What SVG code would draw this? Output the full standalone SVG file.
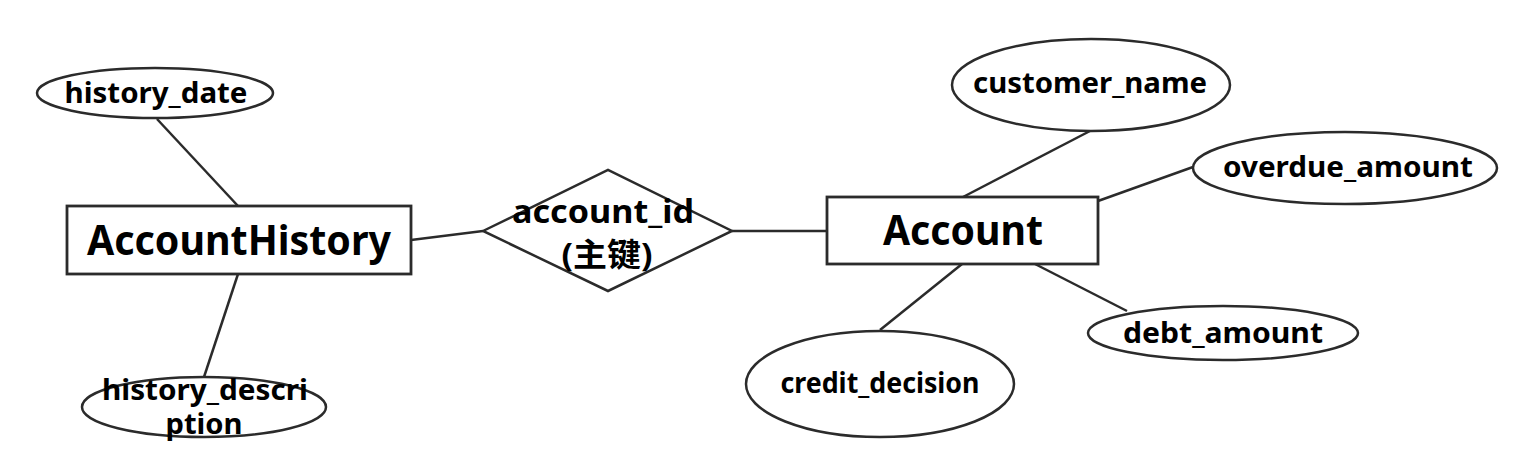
<svg xmlns="http://www.w3.org/2000/svg" width="1536" height="473" viewBox="0 0 1536 473">
<style>
.shape{fill:#fff;stroke:#2b2b2b;stroke-width:2.5}
.ent{fill:#fff;stroke:#2b2b2b;stroke-width:2.8}
.conn line{stroke:#2b2b2b;stroke-width:2.5}
text{font-family:"Noto Sans","Noto Sans CJK SC",sans-serif;font-weight:bold;fill:#000;text-anchor:middle}
.attr{font-size:28px}
.entt{font-size:41px}
.rel{font-size:32px}
</style>
<rect width="1536" height="473" fill="#fff"/>
<g id="connectors" class="conn">
<line x1="157" y1="119" x2="238" y2="206"/>
<line x1="238" y1="274" x2="204" y2="377"/>
<line x1="411" y1="240" x2="483" y2="231"/>
<line x1="732" y1="231" x2="827" y2="231"/>
<line x1="1090" y1="131" x2="963" y2="197"/>
<line x1="1098" y1="201" x2="1193" y2="167"/>
<line x1="962" y1="264" x2="880" y2="330"/>
<line x1="1035" y1="264" x2="1127" y2="311"/>
</g>
<g id="history_date">
<ellipse class="shape" cx="155" cy="93" rx="118" ry="25"/>
<text class="attr" x="156" y="103" textLength="183" lengthAdjust="spacingAndGlyphs">history_date</text>
</g>
<g id="AccountHistory">
<rect class="ent" x="67" y="206" width="344" height="68"/>
<text class="entt" x="239" y="255" textLength="304" lengthAdjust="spacingAndGlyphs">AccountHistory</text>
</g>
<g id="history_description">
<ellipse class="shape" cx="204" cy="407" rx="122" ry="30"/>
<text class="attr" x="205" y="400" textLength="206" lengthAdjust="spacingAndGlyphs">history_descri</text>
<text class="attr" x="204" y="434" textLength="77" lengthAdjust="spacingAndGlyphs">ption</text>
</g>
<g id="account_id">
<polygon class="shape" points="483,231 608,170 732,231 608,291"/>
<text class="rel" x="603" y="223" textLength="182" lengthAdjust="spacingAndGlyphs">account_id</text>
<text class="rel" x="607" y="266" textLength="91" lengthAdjust="spacingAndGlyphs">(主键)</text>
</g>
<g id="Account">
<rect class="ent" x="827" y="197" width="271" height="67"/>
<text class="entt" x="963" y="245" textLength="160" lengthAdjust="spacingAndGlyphs">Account</text>
</g>
<g id="customer_name">
<ellipse class="shape" cx="1091" cy="85" rx="139" ry="46"/>
<text class="attr" x="1090" y="93" textLength="234" lengthAdjust="spacingAndGlyphs">customer_name</text>
</g>
<g id="overdue_amount">
<ellipse class="shape" cx="1345" cy="168" rx="152" ry="36"/>
<text class="attr" x="1348" y="177" textLength="250" lengthAdjust="spacingAndGlyphs">overdue_amount</text>
</g>
<g id="debt_amount">
<ellipse class="shape" cx="1223" cy="333" rx="135" ry="27"/>
<text class="attr" x="1223" y="343" textLength="200" lengthAdjust="spacingAndGlyphs">debt_amount</text>
</g>
<g id="credit_decision">
<ellipse class="shape" cx="880" cy="384" rx="134" ry="53"/>
<text class="attr" x="880" y="393" textLength="199" lengthAdjust="spacingAndGlyphs">credit_decision</text>
</g>
</svg>
